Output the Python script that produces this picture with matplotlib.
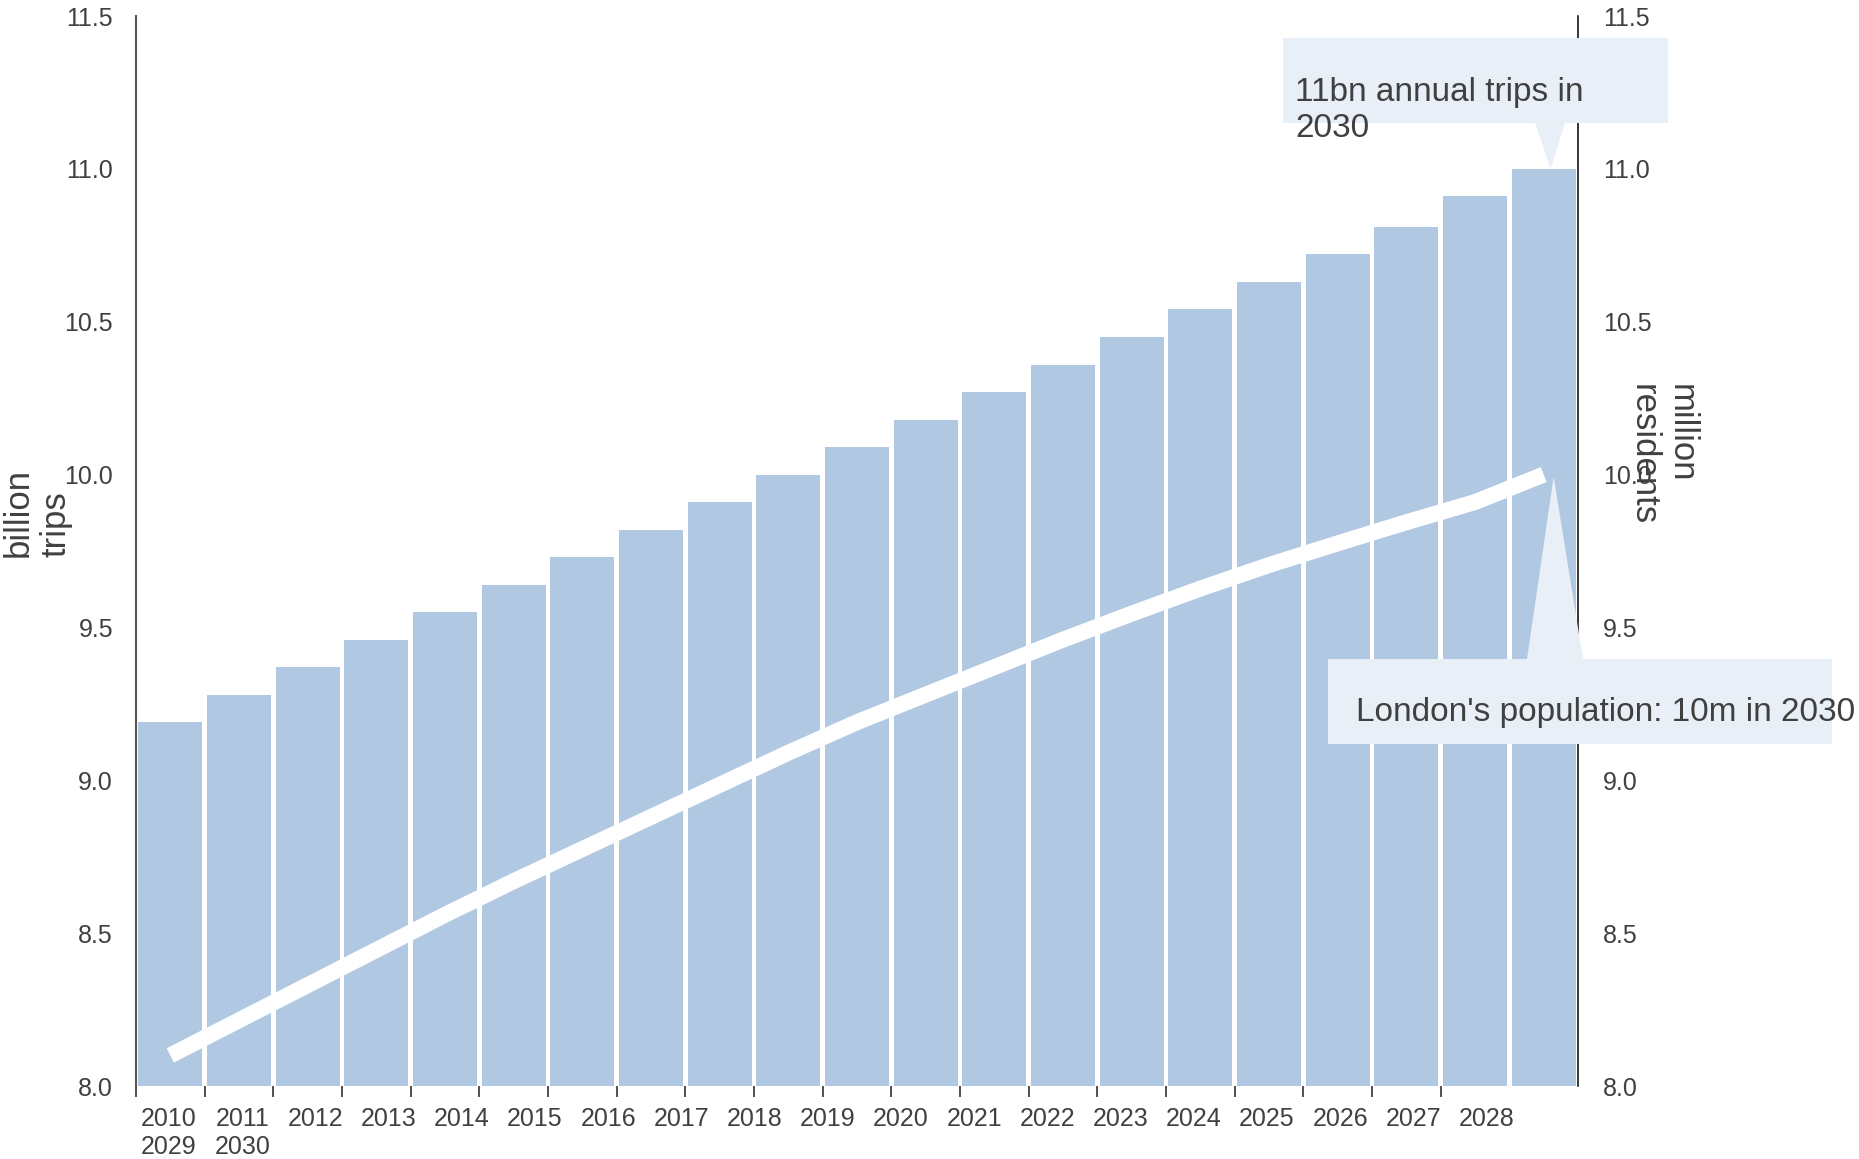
import matplotlib
matplotlib.use("Agg")
import matplotlib.pyplot as plt
from matplotlib.patches import Rectangle, Polygon
import numpy as np

plt.rcParams['font.family'] = ['Liberation Sans', 'DejaVu Sans']

# datos
years = [str(y) for y in range(2010, 2031)]
trips = [9.19, 9.28, 9.37, 9.46, 9.55, 9.64, 9.73, 9.82, 9.91, 10.0, 10.09,
         10.18, 10.27, 10.36, 10.45, 10.54, 10.63, 10.72, 10.81, 10.91, 11.0]
population = [8.10, 8.215, 8.33, 8.445, 8.56, 8.67, 8.775, 8.88, 8.985, 9.09, 9.19,
              9.28, 9.37, 9.46, 9.545, 9.627, 9.704, 9.775, 9.844, 9.91, 10.0]
yticks = [8.0, 8.5, 9.0, 9.5, 10.0, 10.5, 11.0, 11.5]

W, H = 1859, 1159
TXT = '#404040'
BAR = '#b1c8e2'
BOX = '#e8eff7'


def fp(x, y):
    # pixel (arriba-izquierda) -> fraccion de figura
    return (x / W, 1 - y / H)


fig = plt.figure(figsize=(W / 100, H / 100), dpi=100)
ax = fig.add_axes([136 / W, 1 - 1086 / H, (1578 - 136) / W, (1086 - 16) / H])
x = np.arange(len(years))

ax.bar(x, trips, width=0.935, color=BAR, zorder=1)
ax.set_xlim(-0.5, len(years) - 0.5)
ax.set_ylim(8.0, 11.5)

# linea de poblacion en eje derecho
ax2 = ax.twinx()
ax2.set_ylim(8.0, 11.5)
ax2.set_xlim(-0.5, len(years) - 0.5)
ax2.plot(x, population, color='white', lw=11.5, solid_capstyle='butt', solid_joinstyle='round')
for s in ax2.spines.values():
    s.set_visible(False)

for a, pad, side in [(ax, 16.5, 'left'), (ax2, 18, 'right')]:
    a.set_yticks(yticks)
    a.set_yticklabels([f'{v:.1f}' for v in yticks])
    a.tick_params(axis='y', length=0, pad=pad, labelsize=18, labelcolor=TXT)

# marcas en los limites entre barras
ax.set_xticks(x[:-1] - 0.5)
ax.set_xticklabels([])
ax.tick_params(axis='x', length=8, width=1.2, color='#333333')
for s in ['top', 'bottom']:
    ax.spines[s].set_visible(False)
ax.spines['left'].set_color('#555555')
ax.spines['left'].set_linewidth(1.5)
ax.spines['right'].set_color('black')
ax.spines['right'].set_linewidth(1.1)

# años (texto envuelto en dos lineas)
for i, yr in enumerate(years[:19]):
    fig.text(*fp(169 + 73.2 * i, 1119), yr, ha='center', va='center', fontsize=18, color=TXT)
for i, yr in enumerate(years[19:]):
    fig.text(*fp(169 + 73.2 * i, 1147), yr, ha='center', va='center', fontsize=18, color=TXT)

# titulos de ejes
fig.text(*fp(37, 557), 'billion\ntrips', rotation=90, ha='center', va='bottom',
         multialignment='left', fontsize=25, color=TXT, linespacing=1.2)
fig.text(*fp(1662, 384), 'million\nresidents', rotation=-90, ha='center', va='top',
         multialignment='left', fontsize=25, color=TXT, linespacing=1.2)

# posiciones en pixeles de los puntos finales
to_fig = fig.transFigure.inverted()
tip_trips = ax.transData.transform((x[-1], trips[-1]))
tip_pop = ax2.transData.transform((x[-1], population[-1]))
tip_trips = to_fig.transform((tip_trips[0] + 7, tip_trips[1]))
tip_pop = to_fig.transform((tip_pop[0] + 10, tip_pop[1] - 2))

# globo 1
x0, y0 = fp(1283, 123)
x1, y1 = fp(1668, 38)
fig.add_artist(Rectangle((x0, y0), x1 - x0, y1 - y0, transform=fig.transFigure,
                         facecolor=BOX, edgecolor='none', zorder=5))
fig.add_artist(Polygon([fp(1535, 123), fp(1565, 123), tip_trips], closed=True,
                       transform=fig.transFigure, facecolor=BOX, edgecolor='none', zorder=5))
fig.text(*fp(1295, 137), '11bn annual trips in\n2030', ha='left', va='baseline',
         fontsize=24, color=TXT, zorder=6, linespacing=1.2)

# globo 2
x0, y0 = fp(1328, 744)
x1, y1 = fp(1832, 659)
fig.add_artist(Rectangle((x0, y0), x1 - x0, y1 - y0, transform=fig.transFigure,
                         facecolor=BOX, edgecolor='none', zorder=5))
fig.add_artist(Polygon([fp(1527, 659), fp(1583, 659), tip_pop], closed=True,
                       transform=fig.transFigure, facecolor=BOX, edgecolor='none', zorder=5))
fig.text(*fp(1356, 721), "London's population: 10m in 2030", ha='left', va='baseline',
         fontsize=24, color=TXT, zorder=6)

fig.savefig('out.png', dpi=100)
